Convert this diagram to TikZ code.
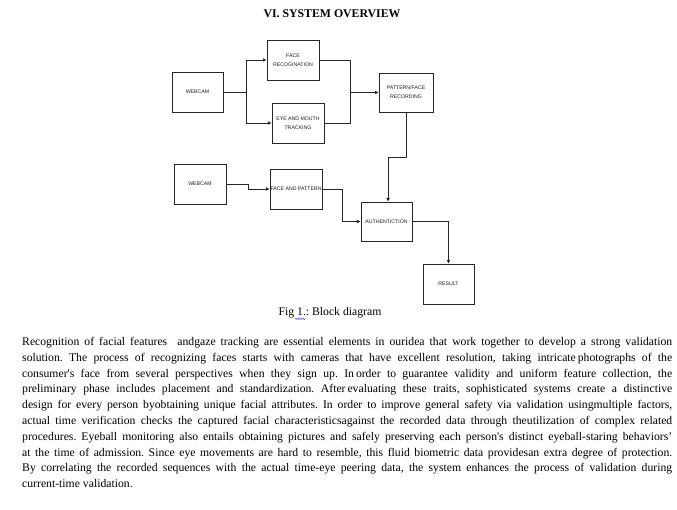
\documentclass[tikz,border=0pt]{standalone}
\usepackage{fontspec}
\setmainfont{Liberation Serif}
\newfontfamily\boxfont{Liberation Sans}
\usetikzlibrary{arrows.meta,decorations.pathmorphing}
\tikzset{
  blk/.style={draw=black!85, line width=0.8pt, minimum width=52pt, minimum height=40pt,
    inner sep=0pt, align=center, font=\boxfont\fontsize{5.2}{9}\selectfont, text=black!88},
  conn/.style={draw=black!85, line width=0.8pt},
  arr/.style={conn, -{Latex[length=3.5pt,width=3.5pt]}},
  para/.style={anchor=base west, inner sep=0pt, font=\fontsize{11.7}{13}\selectfont},
}
\newcommand{\jline}[1]{\makebox[650pt][s]{#1}}
\frenchspacing
\begin{document}
\begin{tikzpicture}[x=1pt,y=-1pt]
\useasboundingbox (0,0) rectangle (677,509);
\fill[white] (0,0) rectangle (677,509);
% title
\node[inner sep=0pt, font=\bfseries\fontsize{11.8}{13}\selectfont] (title) at (332,13.5) {VI. SYSTEM OVERVIEW};
% blocks
\node[blk, minimum width=51pt] (cam1) at (197.5,92) {WEBCAM};
\node[blk] (face) at (293,60) {FACE\\RECOGINATION};
\node[blk] (eye) at (298,123) {EYE AND MOUTH\\TRACKING};
\node[blk, minimum width=54pt, minimum height=39pt] (pat) at (406,92.5) {PATTERN/FACE\\RECORDING};
\node[blk] (cam2) at (200,184) {WEBCAM};
\node[blk] (fap) at (296,189) {FACE AND PATTERN};
\node[blk, minimum width=51pt, minimum height=39pt] (auth) at (386.5,221.5) {AUTHENTICTION};
\node[blk, minimum width=51pt] (res) at (448.5,284) {RESULT};
% junctions
\coordinate (j1) at (246,92);
\coordinate (j2) at (350,92.5);
\coordinate (j3) at (406,157);
\coordinate (j3b) at (388,157);
\coordinate (j4) at (248,184);
\coordinate (j5) at (342,221.5);
% connectors
\draw[conn] (cam1.east) -- (j1);
\draw[arr] (j1) |- (face.west);
\draw[arr] (j1) |- (eye.west);
\draw[conn] (face.east) -| (j2);
\draw[conn] (eye.east) -| (j2);
\draw[arr] (j2) -- (pat.west);
\draw[conn] (pat.south) -- (j3) -- (j3b);
\draw[arr] (j3b) -- (j3b |- auth.north);
\draw[arr] (cam2.east) -- (j4) |- (fap.west);
\draw[arr] (fap.east) -| (j5) -- (auth.west);
\draw[arr] (auth.east) -| (res.north);
% caption
\node[inner sep=0pt, font=\fontsize{11.7}{13}\selectfont] (cap) at (330,313) {Fig 1.: Block diagram};
\coordinate (sq1) at (295,318.8);
\coordinate (sq2) at (306,318.8);
\draw[blue!70, line width=0.5pt, decorate, decoration={snake, amplitude=0.8pt, segment length=2.5pt}] (sq1) -- (sq2);
% paragraph
\node[para] (l1) at (22,345.5) {\jline{Recognition of facial features \ andgaze tracking are essential elements in ouridea that work together to develop a strong validation}};
\node[para] (l2) at (22,361.3) {\jline{solution. The process of recognizing faces starts with cameras that have excellent resolution, taking intricate\,photographs of the}};
\node[para] (l3) at (22,377.1) {\jline{consumer\textquotesingle s face from several perspectives when they sign up. In\,order to guarantee validity and uniform feature collection, the}};
\node[para] (l4) at (22,392.9) {\jline{preliminary phase includes placement and standardization. After\,evaluating these traits, sophisticated systems create a distinctive}};
\node[para] (l5) at (22,408.7) {\jline{design for every person byobtaining unique facial attributes. In order to improve general safety via validation usingmultiple factors,}};
\node[para] (l6) at (22,424.5) {\jline{actual time verification checks the captured facial characteristicsagainst the recorded data through theutilization of complex related}};
\node[para] (l7) at (22,440.3) {\jline{procedures. Eyeball monitoring also entails obtaining pictures and safely preserving each person\textquotesingle s distinct eyeball-staring behaviors’}};
\node[para] (l8) at (22,456.1) {\jline{at the time of admission. Since eye movements are hard to resemble, this fluid biometric data providesan extra degree of protection.}};
\node[para] (l9) at (22,471.9) {\jline{By correlating the recorded sequences with the actual time-eye peering data, the system enhances the process of validation during}};
\node[para] (l10) at (22,487.7) {current-time validation.};
\end{tikzpicture}
\end{document}
